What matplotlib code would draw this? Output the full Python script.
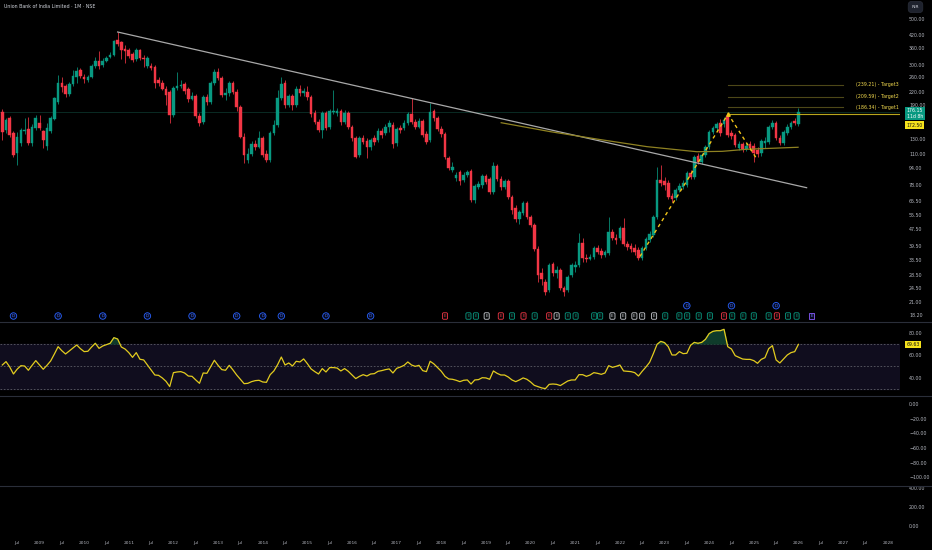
import numpy as np
import matplotlib
matplotlib.use('Agg')
import matplotlib.pyplot as plt
import matplotlib.transforms as mtransforms
from matplotlib.lines import Line2D
from matplotlib.ticker import FixedLocator, NullLocator

# Union Bank of India, monthly bars. bar index 0 = Mar 2008, last = Jan 2026
opens = [176.4, 144.2, 165.0, 139.4, 111.5, 124.7, 142.6, 145.8, 124.7, 147.5,
         156.0, 142.6, 120.5, 142.6, 163.1, 197.3, 244.2, 236.1, 215.8, 241.4, 261.1, 282.4,
         261.1, 252.5, 261.1, 295.4, 312.4, 298.7, 312.4, 326.7, 334.1, 395.2, 386.4, 357.3,
         353.3, 337.8, 319.5, 353.3, 323.1, 295.4, 295.4, 292.1, 252.5, 244.2, 228.2, 220.7,
         170.6, 230.8, 236.1, 241.4, 228.2, 204.1, 211.0, 168.7, 157.7, 208.7, 197.3, 244.2,
         276.1, 258.2, 213.4, 218.3, 244.2, 220.7, 186.6, 133.4, 103.1, 110.2, 123.3, 119.2,
         131.9, 110.2, 103.1, 139.4, 152.5, 206.4, 244.2, 190.8, 211.0, 190.8, 228.2, 218.3,
         220.7, 208.7, 174.4, 157.7, 144.2, 174.4, 149.1, 176.4, 174.4, 178.4, 157.7, 174.4,
         149.1, 131.9, 109.0, 131.9, 127.5, 119.2, 131.9, 128.9, 142.6, 139.4, 149.1, 152.5,
         124.7, 147.5, 147.5, 156.0, 172.5, 157.7, 149.1, 159.5, 137.9, 128.9, 178.4, 165.0,
         145.8, 137.9, 105.4, 92.1, 84.2, 90.1, 82.4, 87.1, 91.1, 65.9, 76.2, 77.9,
         86.1, 83.3, 72.0, 96.4, 83.3, 76.2, 81.5, 68.1, 60.2, 53.3, 57.0, 63.7,
         54.5, 49.8, 38.1, 29.1, 26.3, 24.0, 32.1, 29.1, 30.1, 24.6, 24.0, 28.4,
         31.1, 31.8, 40.7, 34.4, 34.0, 34.8, 38.5, 37.2, 35.6, 36.4, 46.1, 43.0,
         43.0, 48.1, 40.3, 39.4, 38.5, 37.6, 34.4, 38.5, 42.1, 44.5, 54.5, 82.4,
         81.5, 79.7, 68.8, 67.3, 73.6, 76.2, 77.9, 89.1, 85.2, 107.8, 100.8, 109.0,
         119.2, 141.0, 147.5, 156.0, 154.2, 168.7, 139.4, 136.4, 117.9, 123.3, 116.6, 123.3,
         120.5, 115.3, 111.5, 124.7, 126.1, 149.1, 156.0, 131.9, 124.7, 139.4, 149.1, 159.5,
         154.2]
highs = [182.4, 165.0, 168.7, 142.6, 141.0, 147.5, 165.0, 166.8, 154.2, 170.6,
         170.6, 144.2, 156.0, 168.7, 208.7, 267.0, 261.1, 241.4, 246.9, 282.4, 292.1, 288.8,
         270.0, 267.0, 302.1, 326.7, 349.4, 323.1, 330.4, 345.5, 395.2, 432.2, 390.8, 373.7,
         361.4, 345.5, 361.4, 357.3, 334.1, 330.4, 305.5, 298.7, 261.1, 252.5, 236.1, 225.7,
         236.1, 276.1, 252.5, 246.9, 233.4, 220.7, 215.8, 174.4, 213.4, 215.8, 249.7, 285.6,
         288.8, 264.0, 230.8, 249.7, 249.7, 228.2, 190.8, 139.4, 117.9, 127.5, 128.9, 142.6,
         134.9, 115.3, 142.6, 161.3, 225.7, 261.1, 252.5, 215.8, 215.8, 236.1, 238.7, 230.8,
         236.1, 213.4, 180.4, 163.1, 178.4, 178.4, 182.4, 225.7, 184.5, 182.4, 180.4, 178.4,
         152.5, 134.9, 134.9, 136.4, 131.9, 131.9, 136.4, 147.5, 147.5, 154.2, 161.3, 157.7,
         149.1, 152.5, 161.3, 176.4, 206.4, 163.1, 165.0, 163.1, 142.6, 195.1, 182.4, 168.7,
         150.8, 141.0, 107.8, 100.8, 90.1, 92.1, 90.1, 92.1, 93.2, 78.8, 81.5, 88.1,
         88.1, 85.2, 100.8, 98.6, 86.1, 83.3, 83.3, 69.6, 62.3, 58.9, 65.2, 65.2,
         55.7, 50.9, 39.4, 30.7, 27.2, 32.5, 32.9, 31.4, 30.7, 25.1, 28.4, 32.5,
         33.2, 45.5, 43.0, 36.0, 36.0, 39.4, 39.8, 38.5, 37.6, 54.5, 47.6, 45.0,
         49.2, 53.9, 41.6, 40.7, 40.3, 38.9, 39.4, 43.5, 46.6, 55.7, 95.3, 97.5,
         85.2, 82.4, 71.2, 75.3, 79.7, 82.4, 91.1, 92.1, 109.0, 111.5, 111.5, 121.9,
         144.2, 150.8, 157.7, 163.1, 166.8, 172.5, 144.2, 139.4, 127.5, 126.1, 124.7, 127.5,
         124.7, 119.2, 130.4, 133.4, 152.5, 161.3, 159.5, 136.4, 144.2, 154.2, 159.5, 165.0,
         184.0]
lows = [128.9, 139.4, 133.4, 106.6, 97.5, 120.5, 137.9, 121.9, 120.5, 144.2,
        144.2, 117.9, 115.3, 139.4, 161.3, 193.0, 220.7, 208.7, 211.0, 236.1, 244.2, 258.2,
        244.2, 246.9, 258.2, 288.8, 285.6, 292.1, 308.9, 323.1, 330.4, 369.5, 319.5, 305.5,
        323.1, 308.9, 312.4, 315.9, 292.1, 288.8, 282.4, 230.8, 236.1, 225.7, 190.8, 156.0,
        166.8, 225.7, 230.8, 215.8, 197.3, 201.8, 165.0, 150.8, 154.2, 190.8, 193.0, 238.7,
        252.5, 208.7, 201.8, 211.0, 215.8, 178.4, 131.9, 99.7, 99.7, 107.8, 115.3, 117.9,
        106.6, 100.8, 100.8, 136.4, 149.1, 201.8, 184.5, 186.6, 180.4, 186.6, 211.0, 211.0,
        201.8, 166.8, 154.2, 141.0, 131.9, 144.2, 145.8, 172.5, 168.7, 152.5, 154.2, 145.8,
        127.5, 105.4, 106.6, 123.3, 105.4, 115.3, 121.9, 126.1, 131.9, 136.4, 141.0, 117.9,
        120.5, 139.4, 144.2, 152.5, 154.2, 145.8, 147.5, 133.4, 123.3, 126.1, 159.5, 142.6,
        133.4, 104.2, 92.1, 90.1, 81.5, 77.9, 80.6, 85.2, 64.4, 63.7, 74.5, 75.3,
        78.8, 70.4, 70.4, 81.5, 73.6, 74.5, 66.6, 56.3, 51.4, 50.3, 55.7, 53.3,
        48.7, 37.2, 26.3, 25.4, 22.7, 23.5, 28.1, 27.5, 24.0, 22.5, 23.5, 27.8,
        29.4, 31.1, 32.9, 32.9, 33.6, 34.0, 36.0, 34.4, 34.8, 35.6, 42.1, 40.3,
        42.1, 39.4, 37.6, 36.8, 35.6, 33.6, 33.6, 37.6, 41.2, 43.5, 53.3, 77.0,
        73.6, 66.6, 64.4, 65.9, 72.0, 74.5, 76.2, 83.3, 83.3, 98.6, 98.6, 106.6,
        116.6, 137.9, 142.6, 134.9, 149.1, 133.4, 130.4, 119.2, 115.3, 112.7, 114.0, 115.3,
        100.8, 106.6, 107.8, 117.9, 123.3, 145.8, 128.9, 121.9, 121.9, 136.4, 145.8, 152.5,
        150.8]
closes = [141.0, 161.3, 136.4, 109.0, 133.4, 144.2, 144.2, 124.7, 149.1, 165.0,
          147.5, 128.9, 147.5, 165.0, 206.4, 244.2, 233.4, 215.8, 241.4, 264.0, 279.3, 264.0,
          255.3, 261.1, 295.4, 312.4, 295.4, 312.4, 323.1, 334.1, 390.8, 377.9, 353.3, 349.4,
          330.4, 315.9, 353.3, 323.1, 319.5, 323.1, 288.8, 244.2, 244.2, 228.2, 213.4, 170.6,
          230.8, 236.1, 238.7, 223.2, 204.1, 211.0, 168.7, 156.0, 208.7, 197.3, 244.2, 276.1,
          258.2, 213.4, 218.3, 244.2, 220.7, 186.6, 133.4, 109.0, 110.2, 123.3, 119.2, 131.9,
          109.0, 103.1, 139.4, 152.5, 206.4, 241.4, 190.8, 211.0, 190.8, 228.2, 218.3, 223.2,
          208.7, 172.5, 157.7, 144.2, 174.4, 147.5, 178.4, 178.4, 178.4, 157.7, 174.4, 149.1,
          131.9, 106.6, 131.9, 126.1, 119.2, 128.9, 126.1, 142.6, 136.4, 149.1, 156.0, 123.3,
          145.8, 144.2, 156.0, 172.5, 157.7, 149.1, 159.5, 136.4, 126.1, 176.4, 165.0, 145.8,
          137.9, 106.6, 94.3, 95.3, 87.1, 81.5, 87.1, 90.1, 65.9, 77.0, 78.8, 86.1,
          80.6, 72.0, 96.4, 83.3, 76.2, 81.5, 68.1, 58.9, 53.3, 57.6, 63.7, 54.5,
          49.8, 38.1, 28.4, 27.2, 23.5, 31.8, 29.1, 30.1, 24.6, 23.5, 27.8, 31.8,
          31.8, 40.7, 34.4, 34.0, 34.8, 38.5, 36.8, 35.6, 36.8, 46.1, 43.0, 42.1,
          48.1, 40.3, 38.9, 38.1, 36.8, 34.4, 38.5, 42.6, 45.0, 54.5, 82.4, 79.7,
          77.9, 68.1, 66.6, 73.6, 77.0, 79.7, 89.1, 85.2, 106.6, 100.8, 109.0, 119.2,
          141.0, 147.5, 154.2, 139.4, 161.3, 136.4, 134.9, 121.9, 123.3, 116.6, 120.5, 117.9,
          111.5, 110.2, 127.5, 127.5, 149.1, 156.0, 131.9, 124.7, 141.0, 149.1, 156.0, 156.0,
          176.15]

# RSI(14), one value per bar
rsi = [51.3, 54.3, 49.5, 43.3, 47.6, 50.7, 50.4, 46.6, 51.0, 55.2,
       51.3, 47.5, 51.0, 54.9, 61.1, 67.6, 64.0, 61.1, 63.8, 66.4, 69.1, 65.8,
       63.2, 63.5, 67.3, 70.6, 66.1, 68.2, 69.4, 70.6, 75.6, 74.4, 67.3, 65.5,
       62.3, 58.1, 62.3, 56.4, 55.8, 51.3, 46.9, 42.4, 42.1, 39.8, 36.8, 32.1,
       44.5, 45.1, 45.4, 44.2, 41.5, 41.2, 38.0, 35.0, 44.2, 43.9, 49.8, 55.5,
       51.0, 47.2, 46.6, 51.0, 46.9, 42.4, 38.6, 34.7, 35.0, 36.5, 37.4, 37.7,
       36.2, 35.9, 42.7, 46.0, 51.6, 58.4, 51.3, 53.1, 50.4, 54.6, 54.0, 56.7,
       52.5, 47.8, 45.4, 43.3, 48.1, 45.1, 49.0, 49.0, 48.6, 46.0, 48.1, 45.7,
       42.4, 39.2, 41.2, 42.7, 41.5, 43.3, 43.6, 45.7, 46.3, 47.2, 47.8, 44.2,
       48.3, 49.5, 51.0, 54.0, 51.3, 50.1, 51.0, 46.3, 45.4, 54.6, 52.3, 49.0,
       45.7, 41.2, 38.9, 38.6, 37.7, 36.5, 37.7, 38.0, 34.4, 38.0, 38.3, 40.0,
       39.8, 38.6, 46.0, 43.9, 42.4, 42.4, 40.6, 38.0, 36.5, 38.0, 39.8, 38.6,
       36.2, 33.2, 32.0, 30.9, 30.3, 34.1, 34.4, 34.1, 33.0, 35.0, 37.1, 38.0,
       38.0, 42.7, 42.7, 41.2, 42.4, 44.5, 43.9, 43.0, 44.2, 50.7, 49.2, 50.1,
       51.3, 46.0, 45.7, 45.4, 44.5, 41.5, 45.7, 49.5, 53.7, 61.4, 69.7, 72.3,
       71.2, 67.6, 60.2, 60.2, 63.2, 61.4, 61.7, 68.8, 71.4, 70.6, 71.4, 74.1,
       79.2, 81.2, 81.8, 81.8, 83.0, 67.6, 65.5, 59.6, 58.1, 56.6, 56.3, 56.3,
       55.2, 52.8, 56.3, 57.8, 65.8, 68.5, 55.8, 53.1, 56.6, 60.2, 62.3, 63.2,
       69.63]

# drawings (bar index, price)
trend_x = [31, 216.2]
trend_p = [432.2, 75.6]
curve_x = [134.1, 147.2, 160.7, 173.3, 186.7, 193.5, 200.2, 213.9]
curve_p = [156.5, 141.7, 129.6, 119.7, 113.1, 113.6, 116.3, 118.9]
zig_x = [171.4, 195.1, 202.5]
zig_p = [35.0, 172.5, 106.4]
peak_level = 172.5
targets = [186.34, 209.59, 239.21]
target_names = ['Target1', 'Target2', 'Target3']
last_price = 176.15

# dividend / earnings event markers (bar index)
div_low = [3, 15, 27, 39, 51, 63, 70, 75, 87, 99]
div_high = [184, 196, 208]
earn_idx = [119, 125.3, 127.3, 130.2, 134, 137, 140.1, 143.1, 147, 149, 152, 154.1,
            159.1, 160.7, 164, 166.9, 169.9, 172, 175.2, 178.2, 182, 184.1, 187.2,
            190.2, 194, 196.2, 199.2, 202, 206, 208.2, 211.2, 213.5]
earn_kind = ['r', 'g', 'g', 'w', 'r', 'g', 'r', 'g', 'r', 'w', 'g', 'g',
             'g', 'g', 'w', 'w', 'w', 'w', 'w', 'g', 'g', 'g', 'g',
             'g', 'r', 'g', 'g', 'g', 'g', 'r', 'g', 'g']
next_earn = 217.6

price_ticks = [500, 420, 360, 300, 260, 220, 190, 130, 110, 94, 78, 65.5, 55.5,
               47.5, 39.5, 33.5, 28.5, 24.5, 21, 18.2]

UP = '#089981'
DN = '#f23645'
TXT = '#b2b5be'
BG = '#000000'
W, H = 932, 550


def rect(x0, y0, x1, y1):
    return [x0 / W, 1 - y1 / H, (x1 - x0) / W, (y1 - y0) / H]


def style(a):
    a.set_facecolor(BG)
    for s in a.spines.values():
        s.set_visible(False)
    a.yaxis.tick_right()
    a.tick_params(axis='y', which='both', length=0, pad=6.5, labelsize=3.4, labelcolor=TXT)
    a.tick_params(axis='x', bottom=False, labelbottom=False)
    a.set_xlim(-0.62, 241.3)


fig = plt.figure(figsize=(9.32, 5.5), dpi=100, facecolor=BG)
ax = fig.add_axes(rect(0, 0, 900, 321.7))
ax_rsi = fig.add_axes(rect(0, 321.7, 900, 395.7))
ax3 = fig.add_axes(rect(0, 395.7, 900, 485.7))
ax4 = fig.add_axes(rect(0, 485.7, 900, 537))
for a in (ax, ax_rsi, ax3, ax4):
    style(a)

# ---- price pane
o = np.array(opens)
h = np.array(highs)
l = np.array(lows)
c = np.array(closes)
idx = np.arange(len(c))
cols = np.where(c >= o, UP, DN)

ax.set_yscale('log')
ax.set_ylim(16.86, 618.5)
ax.yaxis.set_major_locator(FixedLocator(price_ticks))
ax.yaxis.set_minor_locator(NullLocator())
ax.set_yticklabels(['%.2f' % t for t in price_ticks])

ax.axhline(last_price, color='#0a2b24', lw=0.7, zorder=1)
ax.vlines(idx, l, h, colors=cols, lw=0.55, zorder=3)
ax.bar(idx, np.abs(c - o), bottom=np.minimum(o, c), width=0.7, color=cols,
       edgecolor=cols, linewidth=0.3, zorder=4)

ax.plot(trend_x, trend_p, color='#a9a9a9', lw=0.9, zorder=5)
ax.plot(curve_x, curve_p, color='#8f8222', lw=0.9, zorder=5)
ax.plot(zig_x, zig_p, color='#f0c419', lw=1.0, ls=(0, (2.5, 2.5)), zorder=6)
ax.plot([zig_x[1]], [peak_level], marker='^', ms=2.5, color='#f0c419', zorder=7)
ax.plot([zig_x[1], 241.3], [peak_level, peak_level], color='#b9a51c', lw=0.8, zorder=5)
for tv, tn in zip(targets, target_names):
    ax.plot([zig_x[1], 226], [tv, tv], color='#4d4818', lw=0.8, zorder=2)
    ax.text(229.6, tv, '(%.2f) - %s' % (tv, tn), color='#f2d94e', fontsize=3.4,
            va='center', ha='left', zorder=8)

# event markers
xt = ax.get_xaxis_transform()
for d in div_low:
    ax.text(d, 0.0177, 'D', transform=xt, fontsize=3.0, color='#4f74ff', ha='center',
            va='center', bbox=dict(boxstyle='circle,pad=0.3', fc='#050a1f', ec='#2962ff', lw=0.6))
for d in div_high:
    ax.text(d, 0.0497, 'D', transform=xt, fontsize=3.0, color='#4f74ff', ha='center',
            va='center', bbox=dict(boxstyle='circle,pad=0.3', fc='#050a1f', ec='#2962ff', lw=0.6))
kind_col = {'r': DN, 'g': UP, 'w': '#c8cad0'}
for e, k in zip(earn_idx, earn_kind):
    ax.text(e, 0.0177, 'E', transform=xt, fontsize=3.0, color=kind_col[k], ha='center',
            va='center', bbox=dict(boxstyle='round,pad=0.3', fc='#060808', ec=kind_col[k], lw=0.6))
ax.text(next_earn, 0.0177, 'E', transform=xt, fontsize=3.0, color='#6f7cff', ha='center',
        va='center', bbox=dict(boxstyle='square,pad=0.3', fc='#0a0820', ec='#8a5cff', lw=0.6))

# right-side labels
ax.text(1.0075, 0.6472, '%.2f\n11d 8h' % last_price, transform=ax.transAxes, fontsize=3.3,
        color='white', va='center', ha='left', linespacing=1.1, clip_on=False,
        bbox=dict(boxstyle='square,pad=0.3', fc=UP, ec='none'))
ax.text(1.0075, 0.6114, '%.2f' % peak_level, transform=ax.transAxes, fontsize=3.3,
        color='#131313', va='center', ha='left', clip_on=False,
        bbox=dict(boxstyle='square,pad=0.3', fc='#f5e21c', ec='none'))

fig.text(4 / W, 1 - 6.5 / H, 'Union Bank of India Limited \u00b7 1M \u00b7 NSE',
         color='#d1d4dc', fontsize=3.4, va='center', ha='left')
fig.text(915.5 / W, 1 - 7 / H, 'INR', color='#d1d4dc', fontsize=3.2, va='center', ha='center',
         bbox=dict(boxstyle='round,pad=0.8', fc='#1e222d', ec='#2a2e39', lw=0.5))

# ---- RSI pane
r = np.array(rsi)
ax_rsi.set_ylim(24.0, 89.8)
ax_rsi.axhspan(30, 70, color='#100d1e', zorder=0)
for lv in (70, 50, 30):
    ax_rsi.axhline(lv, color='#5d5d66', lw=0.6, ls=(0, (2, 2)), zorder=1)
ax_rsi.fill_between(idx, r, 70, where=r > 70, interpolate=True, color='#0f3b2b', zorder=2)
ax_rsi.plot(idx, r, color='#e3cc1e', lw=0.9, zorder=3)
ax_rsi.yaxis.set_major_locator(FixedLocator([80, 60, 40]))
ax_rsi.set_yticklabels(['80.00', '60.00', '40.00'])
ax_rsi.text(1.0075, r[-1], '%.2f' % r[-1],
            transform=mtransforms.blended_transform_factory(ax_rsi.transAxes, ax_rsi.transData),
            fontsize=3.3, color='#131313', va='center', ha='left', clip_on=False,
            bbox=dict(boxstyle='square,pad=0.3', fc='#f5e21c', ec='none'))

# ---- empty oscillator panes
ax3.set_ylim(-111.2, 11.3)
ax3.yaxis.set_major_locator(FixedLocator([0, -20, -40, -60, -80, -100]))
ax3.set_yticklabels(['0.00', '\u221220.00', '\u221240.00', '\u221260.00', '\u221280.00', '\u2212100.00'])

ax4.set_ylim(-116.7, 427.6)
ax4.yaxis.set_major_locator(FixedLocator([0, 200, 400]))
ax4.set_yticklabels(['0.00', '200.00', '400.00'])

# time axis
xt_pos, xt_lab = [], []
for yr in range(2008, 2029):
    j = (yr - 2008) * 12 - 2
    if j >= 0:
        xt_pos.append(j)
        xt_lab.append(str(yr))
    if j + 6 < 241:
        xt_pos.append(j + 6)
        xt_lab.append('Jul')
ax4.set_xticks(xt_pos)
ax4.set_xticklabels(xt_lab)
ax4.tick_params(axis='x', bottom=True, labelbottom=True, length=0, pad=3,
                labelsize=3.2, labelcolor=TXT)

for yy in (321.7, 395.7, 485.7):
    fig.add_artist(Line2D([0, 1], [1 - yy / H, 1 - yy / H], transform=fig.transFigure,
                          color='#2a2e39', lw=0.8))

fig.savefig('out.png', dpi=100, facecolor=BG)
